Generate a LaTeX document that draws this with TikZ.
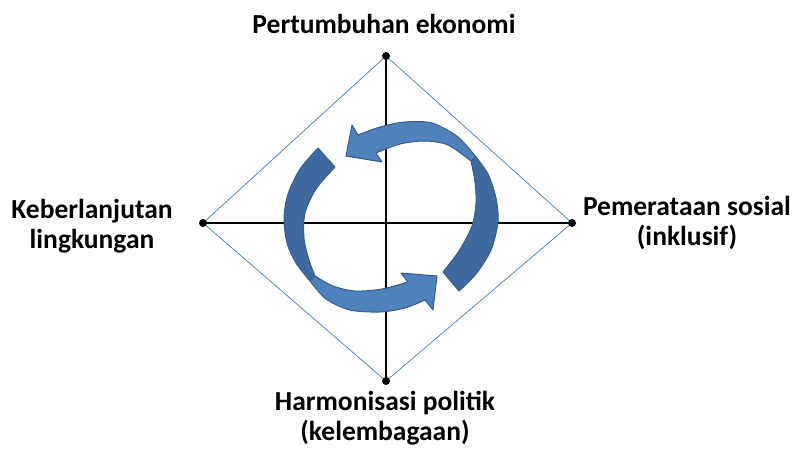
\documentclass[tikz,border=0pt]{standalone}
\usepackage{fontspec}
\setmainfont{Carlito}
\definecolor{panah}{HTML}{4F81BD}
\definecolor{panahgelap}{HTML}{3E6AA0}
\definecolor{tepi}{HTML}{385D8A}
\begin{document}
\begin{tikzpicture}[x=1pt, y=-1pt, teks/.style={font=\fontsize{27.5}{30}\selectfont\bfseries, align=center, inner sep=0pt}, pita/.style={draw=tepi, line width=1, line join=round}]
\useasboundingbox (0,0) rectangle (793,450);
% titik sudut
\coordinate (atas) at (386,56);
\coordinate (kanan) at (572,223);
\coordinate (bawah) at (386,381);
\coordinate (kiri) at (203,223);
% belah ketupat
\draw [panah, line width=0.75] (atas) -- (kanan) -- (bawah) -- (kiri) -- cycle;
% sumbu
\draw [line width=2] (atas) -- (bawah);
\draw [line width=2] (kiri) -- (kanan);
\foreach \t in {atas, kanan, bawah, kiri}
  \fill (\t) circle (4);
% panah atas, bagian belakang
\filldraw [pita, fill=panahgelap] (476,157) -- plot[smooth] coordinates {(476,157) (488,174) (496,198) (498,222) (491,250) (476,274) (459,291)} -- (443,272) -- plot[smooth] coordinates {(443,272) (459,251) (472,226) (476,203) (475,182) (471,161)} -- cycle;
% panah atas, bagian depan
\filldraw [pita, fill=panah] (476,157) -- plot[smooth] coordinates {(476,157) (458,137) (432,123) (405,122) (380,127) (358,135)} -- (352,125) -- (346,156) -- (382,162) -- (376,153) -- plot[smooth] coordinates {(376,153) (400,144) (425,141) (448,145) (471,161)} -- cycle;
% panah bawah, bagian belakang
\filldraw [pita, fill=panahgelap] (318,148) -- plot[smooth] coordinates {(318,148) (300,169) (288,194) (284,218) (287,243) (296,263) (310,281)} -- (315,276) -- plot[smooth] coordinates {(315,276) (309,260) (304,238) (305,213) (316,189) (335,167)} -- cycle;
% panah bawah, bagian depan
\filldraw [pita, fill=panah] (310,281) -- plot[smooth] coordinates {(310,281) (326,299) (350,310) (380,312) (405,308) (425,300)} -- (433,310) -- (437,276) -- (401,273) -- (408,282) -- plot[smooth] coordinates {(408,282) (382,289) (355,291) (333,286) (315,276)} -- cycle;
%Text
\node (ekonomi) [teks, anchor=base] at (384,33) {Pertumbuhan ekonomi};
\node (sosial) [teks, anchor=base] at (687,245) {Pemerataan sosial\\(inklusif)};
\node (politik) [teks, anchor=base] at (385,440) {Harmonisasi politik\\(kelembagaan)};
\node (lingkungan) [teks, anchor=base] at (92,248) {Keberlanjutan\\lingkungan};
\end{tikzpicture}
\end{document}
